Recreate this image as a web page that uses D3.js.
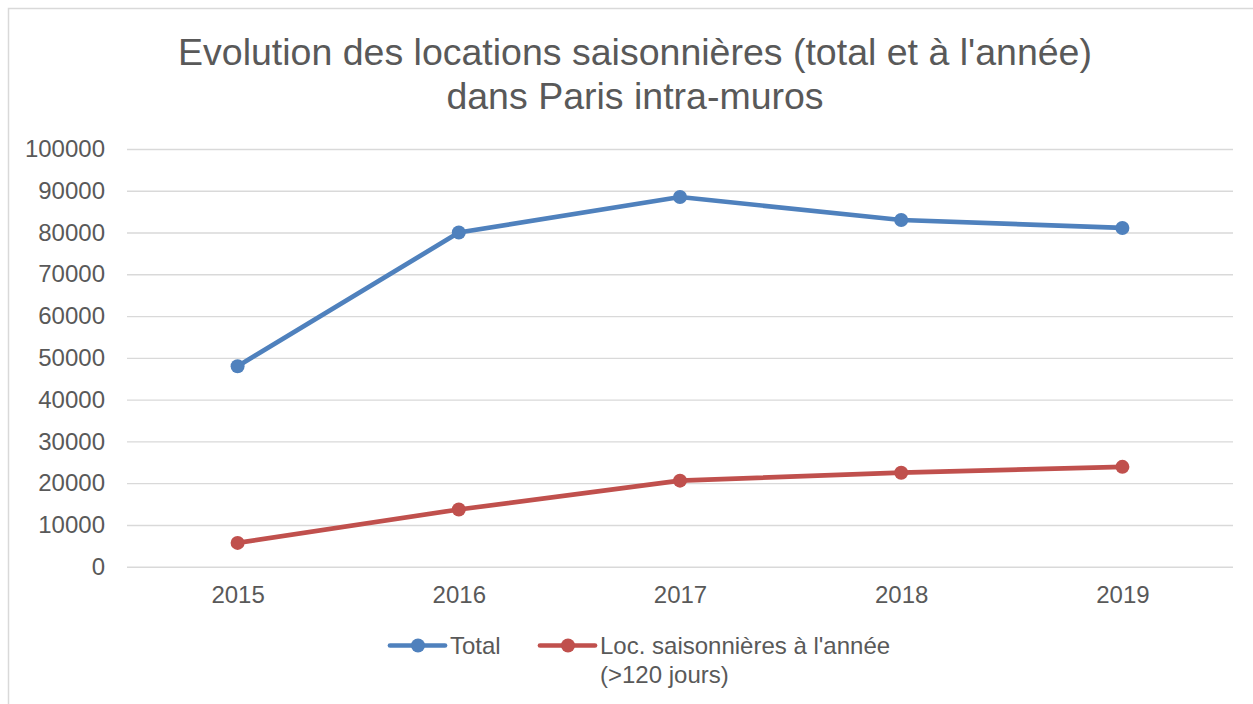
<!DOCTYPE html>
<html>
<head>
<meta charset="utf-8">
<title>Evolution des locations saisonnières</title>
<script src="https://cdn.jsdelivr.net/npm/d3@7"></script>
<style>
  html, body { margin: 0; padding: 0; background: #fff; }
  svg { display: block; font-family: "Liberation Sans", Arial, sans-serif; }
</style>
</head>
<body>
<svg id="chart" width="1253" height="704"></svg>
<script>
// --- Data ---
var years = ["2015", "2016", "2017", "2018", "2019"];
var totalValues = [48000, 80000, 88500, 83000, 81100];
var yearlyValues = [5700, 13700, 20600, 22500, 23900];
var seriesNames = ["Total", "Loc. saisonnières à l'année|(>120 jours)"];
var yTicks = [0, 10000, 20000, 30000, 40000, 50000, 60000, 70000, 80000, 90000, 100000];
var titleLines = ["Evolution des locations saisonnières (total et à l'année)", "dans Paris intra-muros"];

(function () {
  "use strict";

  var COLORS = ["#4F81BD", "#C0504D"];
  var TEXT = "#595959";
  var GRID = "#D9D9D9";

  var svg = d3.select("#chart");

  // chart frame (runs off the right / bottom edge like the original)
  svg.append("rect")
    .attr("x", 8.5).attr("y", 8.5)
    .attr("width", 1280).attr("height", 720)
    .attr("fill", "none")
    .attr("stroke", GRID)
    .attr("stroke-width", 1.5);

  // --- Title ---
  svg.append("g").selectAll("text")
    .data(titleLines)
    .join("text")
    .attr("x", 635)
    .attr("y", function (d, i) { return 65 + i * 44; })
    .attr("text-anchor", "middle")
    .attr("font-size", "37.5px")
    .attr("fill", TEXT)
    .text(function (d) { return d; });

  // --- Scales ---
  var x = d3.scalePoint().domain(years).range([127, 1233]).padding(0.5);
  var y = d3.scaleLinear().domain([0, 100000]).range([566.7, 149]);

  // gridlines
  svg.append("g")
    .attr("transform", "translate(127,0)")
    .call(d3.axisLeft(y).tickValues(yTicks).tickSize(-(1233 - 127)).tickFormat(""))
    .call(function (g) {
      g.select(".domain").remove();
      g.selectAll(".tick line").attr("stroke", GRID).attr("stroke-width", 1.4);
    });

  // y axis labels
  svg.append("g")
    .attr("transform", "translate(105,0)")
    .call(d3.axisLeft(y).tickValues(yTicks).tickSize(0).tickPadding(0).tickFormat(d3.format("d")))
    .call(function (g) {
      g.select(".domain").remove();
      g.selectAll(".tick text")
        .attr("font-family", "Liberation Sans, Arial, sans-serif")
        .attr("font-size", "24px")
        .attr("fill", TEXT);
    });

  // x axis labels
  svg.append("g")
    .attr("transform", "translate(0,566.7)")
    .call(d3.axisBottom(x).tickSize(0).tickPadding(19))
    .call(function (g) {
      g.select(".domain").remove();
      g.selectAll(".tick text")
        .attr("font-family", "Liberation Sans, Arial, sans-serif")
        .attr("font-size", "24px")
        .attr("fill", TEXT);
    });

  // --- Series ---
  var series = [totalValues, yearlyValues];
  var line = d3.line()
    .x(function (d, i) { return x(years[i]); })
    .y(function (d) { return y(d); });

  series.forEach(function (vals, s) {
    var g = svg.append("g");
    g.append("path")
      .datum(vals)
      .attr("d", line)
      .attr("fill", "none")
      .attr("stroke", COLORS[s])
      .attr("stroke-width", 4.7)
      .attr("stroke-linejoin", "round")
      .attr("stroke-linecap", "round");
    g.selectAll("circle")
      .data(vals)
      .join("circle")
      .attr("cx", function (d, i) { return x(years[i]); })
      .attr("cy", function (d) { return y(d); })
      .attr("r", 7)
      .attr("fill", COLORS[s]);
  });

  // --- Legend ---
  var legendX = [390, 540];
  var legend = svg.append("g");
  seriesNames.forEach(function (name, s) {
    var lx = legendX[s];
    legend.append("line")
      .attr("x1", lx).attr("x2", lx + 55)
      .attr("y1", 645.5).attr("y2", 645.5)
      .attr("stroke", COLORS[s])
      .attr("stroke-width", 4.7)
      .attr("stroke-linecap", "round");
    legend.append("circle")
      .attr("cx", lx + 28).attr("cy", 645.5).attr("r", 7)
      .attr("fill", COLORS[s]);
    var t = legend.append("text")
      .attr("x", lx + 60)
      .attr("y", 654.3)
      .attr("font-size", "24px")
      .attr("fill", TEXT);
    name.split("|").forEach(function (part, i) {
      t.append("tspan")
        .attr("x", lx + 60)
        .attr("dy", i === 0 ? 0 : 29)
        .text(part);
    });
  });
})();
</script>
</body>
</html>
